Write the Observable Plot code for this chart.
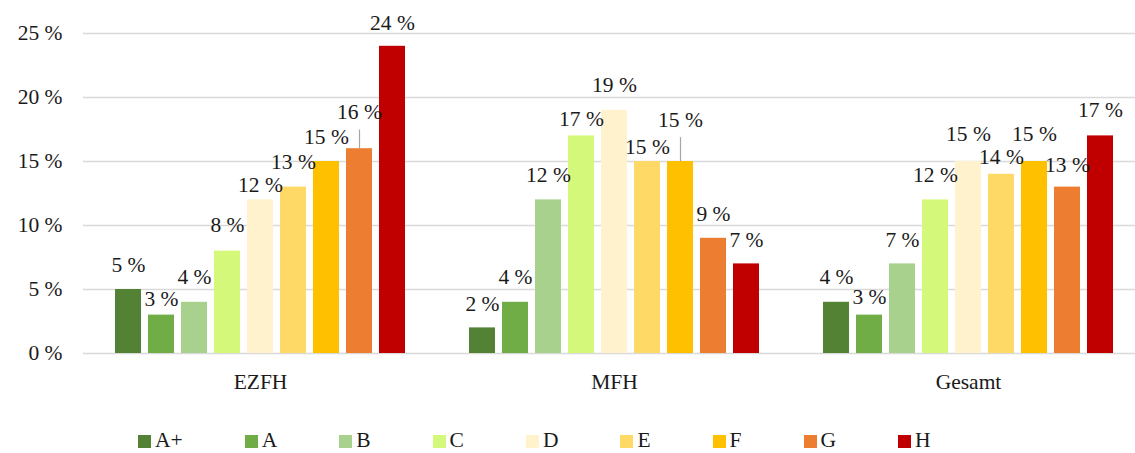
<!DOCTYPE html>
<html>
<head>
<meta charset="utf-8">
<script src="https://cdn.jsdelivr.net/npm/d3@7"></script>
<script src="https://cdn.jsdelivr.net/npm/@observablehq/plot@0.6"></script>
<style>
  html, body { margin: 0; padding: 0; background: #fff; }
  #chart { width: 1135px; height: 453px; overflow: hidden; font-family: "Liberation Serif", "DejaVu Serif", serif; color: #1a1a1a; }
  #legend { display: flex; gap: 62px; padding-left: 138px; padding-top: 29px; font-size: 21.5px; line-height: 22px; height: 22px; }
  #legend .item { display: flex; align-items: baseline; white-space: nowrap; }
  #legend .sw { display: inline-block; width: 13px; height: 13px; margin-right: 4px; position: relative; top: 1px; }
</style>
</head>
<body>
<div id="chart"></div>
<script>
// ---- data ----
const groups = ["EZFH", "MFH", "Gesamt"];
const classes = ["A+", "A", "B", "C", "D", "E", "F", "G", "H"];
const ezfhValues = [5, 3, 4, 8, 12, 13, 15, 16, 24];
const mfhValues = [2, 4, 12, 17, 19, 15, 15, 9, 7];
const gesamtValues = [4, 3, 7, 12, 15, 14, 15, 13, 17];
const yTicks = [0, 5, 10, 15, 20, 25];
const classColors = ["#548235", "#70ad47", "#a9d18e", "#d4f97a", "#fff2cc", "#ffd966", "#ffc000", "#ed7d31", "#c00000"];

// label placement (pixel offset of label centre above bar top, as placed in the original)
const ezfhLabelDy = [-24, -16, -25, -25.5, -14.5, -25, -24.5, -36.5, -23];
const mfhLabelDy = [-24, -25, -24.5, -17, -25, -14.5, -41, -24.5, -23.5];
const gesamtLabelDy = [-25, -18, -23.5, -24.5, -27.5, -17, -27.5, -21.5, -25.5];
// leader lines: [group, class, top of line in value units]
const leaders = [["EZFH", "G", 17.5], ["MFH", "F", 16.9]];

// ---- build table ----
const seriesByGroup = {EZFH: ezfhValues, MFH: mfhValues, Gesamt: gesamtValues};
const dyByGroup = {EZFH: ezfhLabelDy, MFH: mfhLabelDy, Gesamt: gesamtLabelDy};
const data = groups.flatMap(g => classes.map((c, i) => ({group: g, cls: c, value: seriesByGroup[g][i], dy: dyByGroup[g][i]})));
const leaderData = leaders.map(([g, c, top]) => ({group: g, cls: c, value: seriesByGroup[g][classes.indexOf(c)], top}));

const fontFamily = "Liberation Serif, DejaVu Serif, serif";

const labelMarks = data.map(d => Plot.text([d], {
  fx: "group", x: "cls", y: "value",
  text: d => `${d.value} %`,
  dy: d.dy, lineAnchor: "middle", fill: "#1a1a1a", fontSize: 21.5, fontFamily
}));

const plot = Plot.plot({
  width: 1135,
  height: 400,
  marginTop: 33,
  marginBottom: 47,
  marginLeft: 83,
  marginRight: 0,
  style: {fontFamily, fontSize: "21.5px", color: "#1a1a1a", background: "transparent", overflow: "visible"},
  fx: {domain: groups, range: [83, 1145], paddingInner: 0, paddingOuter: 0, label: null, tickSize: 0, tickPadding: 20, axis: "bottom"},
  x: {domain: classes, paddingInner: 0.22, paddingOuter: 0.862, axis: null},
  y: {domain: [0, 25], ticks: yTicks, tickFormat: d => `${d} %`, tickSize: 0, tickPadding: 21, label: null},
  color: {domain: classes, range: classColors},
  marks: [
    Plot.gridY(yTicks, {stroke: "#d9d9d9", strokeOpacity: 1, strokeWidth: 1.6}),
    Plot.barY(data, {fx: "group", x: "cls", y: "value", fill: "cls"}),
    Plot.link(leaderData, {fx: "group", x1: "cls", x2: "cls", y1: "value", y2: "top", stroke: "#a6a6a6", strokeWidth: 1.2}),
    ...labelMarks
  ]
});

const chart = document.getElementById("chart");
chart.appendChild(plot);

// legend below the SVG
const legend = document.createElement("div");
legend.id = "legend";
classes.forEach((c, i) => {
  const item = document.createElement("span");
  item.className = "item";
  const sw = document.createElement("span");
  sw.className = "sw";
  sw.style.background = classColors[i];
  item.appendChild(sw);
  item.appendChild(document.createTextNode(c));
  legend.appendChild(item);
});
chart.appendChild(legend);
</script>
</body>
</html>
